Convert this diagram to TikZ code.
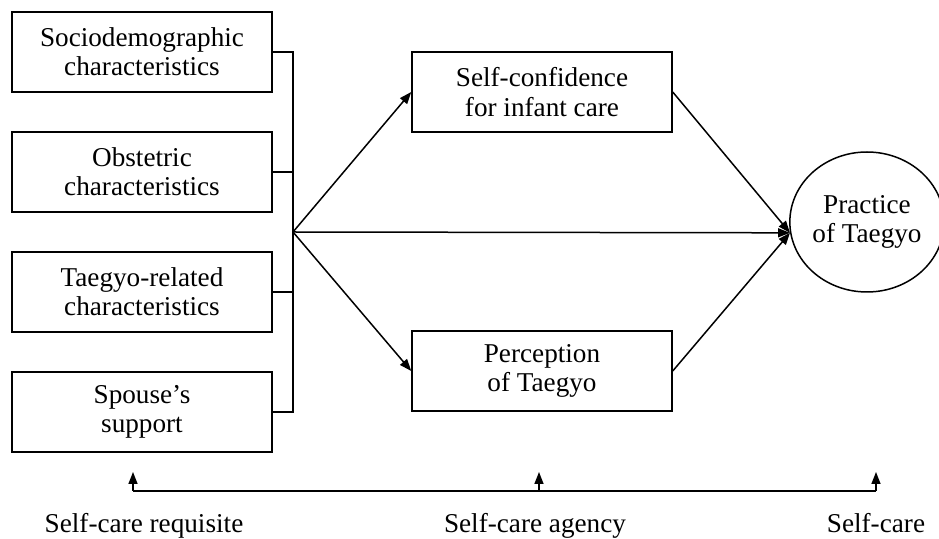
\documentclass[tikz,border=0pt]{standalone}
\usepackage{fontspec}
\setmainfont{Liberation Serif}
\usetikzlibrary{arrows.meta,shapes,calc,positioning}

\begin{document}
\begin{tikzpicture}[x=0.5pt,y=-0.5pt,line width=0.75pt,node distance=60pt,on grid,
  >={Triangle[length=6pt,width=4.5pt]},
  every node/.style={font=\fontsize{13.6}{14.6}\selectfont},
  box/.style={draw,rectangle,minimum width=130pt,minimum height=40pt,align=center},
  goal/.style={draw,ellipse,inner sep=0pt,minimum width=75pt,minimum height=70pt,align=center},
  axislabel/.style={anchor=base}]
  \useasboundingbox (0,0) rectangle (939,539);

  \node[box] (sd) at (142,52) {Sociodemographic\\characteristics};
  \node[box] (ob) [below of=sd] {Obstetric\\characteristics};
  \node[box] (tr) [below of=ob] {Taegyo-related\\characteristics};
  \node[box] (sp) [below of=tr] {Spouse’s\\support};
  \node[box] (sc) at (542,92) {Self-confidence\\for infant care};
  \node[box] (pe) at (542,371) {Perception\\of Taegyo};
  \node[goal] (pt) at (867,222) {Practice\\of Taegyo};

  \coordinate (fork) at (293,232);
  \draw (sd.east) -| (fork) |- (sp.east);
  \draw (ob.east) -- (ob.east -| fork);
  \draw (tr.east) -- (tr.east -| fork);

  \path[->]
    (fork) edge (sc.west)
    (fork) edge (pe.west)
    (fork) edge (pt.188)
    (sc.east) edge (pt.188)
    (pe.east) edge (pt.188);

  % bottom axis
  \coordinate (b1) at (133,491);
  \coordinate (b2) at (539,491);
  \coordinate (b3) at (876,491);
  \draw (b1) -- (b3);
  \draw[->] (b1) -- ++(0,-19);
  \draw[->] (b2) -- ++(0,-19);
  \draw[->] (b3) -- ++(0,-19);
  \node[axislabel] (req) at (144,533) {Self-care requisite};
  \node[axislabel] (age) at (535,533) {Self-care agency};
  \node[axislabel] (car) at (876,533) {Self-care};
\end{tikzpicture}
\end{document}
